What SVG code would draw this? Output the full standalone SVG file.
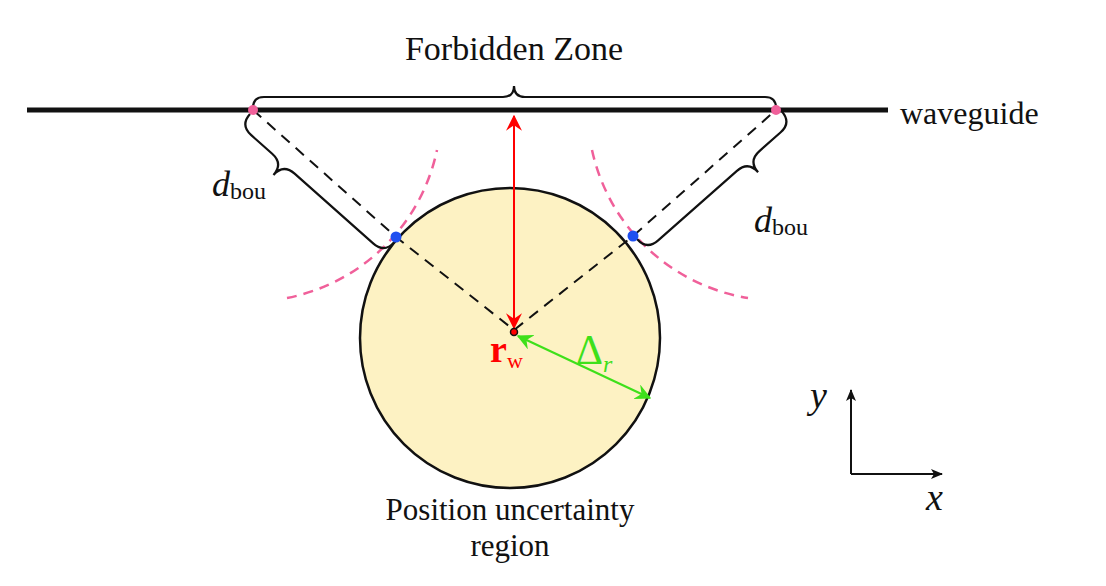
<svg xmlns="http://www.w3.org/2000/svg" width="1106" height="586" viewBox="0 0 1106 586">
<defs>
<style>
.t{font-family:"Liberation Serif","DejaVu Serif",serif;fill:#111}
.br{fill:none;stroke:#111;stroke-width:2.2}
.dash{fill:none;stroke:#111;stroke-width:2;stroke-dasharray:11,8}
.pk{fill:none;stroke:#f0609a;stroke-width:2.5;stroke-dasharray:10,7}
</style>
<marker id="ar" viewBox="0 0 12 12" refX="11" refY="6" markerWidth="16" markerHeight="16" markerUnits="userSpaceOnUse" orient="auto-start-reverse"><path d="M0,0 L12,6 L0,12 L4,6 Z" fill="red"/></marker>
<marker id="ag" viewBox="0 0 12 12" refX="11" refY="6" markerWidth="16" markerHeight="16" markerUnits="userSpaceOnUse" orient="auto-start-reverse"><path d="M0,0 L12,6 L0,12 L4,6 Z" fill="#3ee01a"/></marker>
<marker id="ak" viewBox="0 0 12 12" refX="11" refY="6" markerWidth="12" markerHeight="12" markerUnits="userSpaceOnUse" orient="auto"><path d="M0,1 L12,6 L0,11 L3,6 Z" fill="#111"/></marker>
</defs>
<g id="region"><circle cx="510" cy="338" r="150" fill="#fdf2c3" stroke="#111" stroke-width="2.5"/></g>
<g id="waveguide"><line x1="27" y1="110" x2="888" y2="110" stroke="#111" stroke-width="5"/><text class="t" x="900" y="124" font-size="32">waveguide</text></g>
<g id="connectors">
<path class="pk" d="M287,298 A191,191 0 0 0 437,150"/>
<path class="pk" d="M592,150 A191,191 0 0 0 748,298"/>
<path class="dash" d="M253,110 L396,237 L514,330 L633,236 L776,110"/>
<line x1="514" y1="328" x2="514" y2="116" stroke="red" stroke-width="2" marker-start="url(#ar)" marker-end="url(#ar)"/>
<line x1="518" y1="336" x2="650" y2="398" stroke="#3ee01a" stroke-width="2.2" marker-start="url(#ag)" marker-end="url(#ag)"/>
<path class="br" d="M253,108 q0,-11 11,-11 H503 q11,0 11,-11 q0,11 11,11 H765 q11,0 11,11"/>
<path class="br" transform="translate(250,114) rotate(41.6)" d="M0,0 q0,15 15,15 H43 q15,0 15,15 q0,-15 15,-15 H178 q15,0 15,-15"/>
<path class="br" transform="translate(637,239) rotate(-41.4)" d="M0,0 q0,15 15,15 H120 q15,0 15,15 q0,-15 15,-15 H178 q15,0 15,-15"/>
<line x1="851" y1="474" x2="851" y2="390" stroke="#111" stroke-width="2" marker-end="url(#ak)"/>
<line x1="851" y1="474" x2="942" y2="474" stroke="#111" stroke-width="2" marker-end="url(#ak)"/>
</g>
<g id="points">
<circle cx="253" cy="110" r="5" fill="#f0609a"/><circle cx="776" cy="110" r="5" fill="#f0609a"/>
<circle cx="396" cy="237" r="5.5" fill="#1f4ff0"/><circle cx="633" cy="236" r="5.5" fill="#1f4ff0"/>
<circle cx="514" cy="332" r="3.5" fill="red" stroke="#111" stroke-width="1.5"/>
</g>
<g id="labels">
<text class="t" x="514" y="60" font-size="34" text-anchor="middle">Forbidden Zone</text>
<text class="t" x="212" y="196" font-size="36" font-style="italic">d<tspan font-size="24" font-style="normal" dy="3">bou</tspan></text>
<text class="t" x="754" y="232" font-size="36" font-style="italic">d<tspan font-size="24" font-style="normal" dy="3">bou</tspan></text>
<text class="t" x="490" y="362" font-size="38" font-weight="bold" style="fill:red">r<tspan font-size="22" font-weight="normal" dy="6">w</tspan></text>
<text class="t" x="576" y="364" font-size="42" style="fill:#3ee01a">Δ<tspan font-size="24" font-style="italic" dy="8">r</tspan></text>
<text class="t" x="810" y="408" font-size="38" font-style="italic">y</text>
<text class="t" x="926" y="510" font-size="38" font-style="italic">x</text>
<text class="t" x="510" y="520" font-size="31" text-anchor="middle">Position uncertainty</text>
<text class="t" x="510" y="556" font-size="31" text-anchor="middle">region</text>
</g>
</svg>
